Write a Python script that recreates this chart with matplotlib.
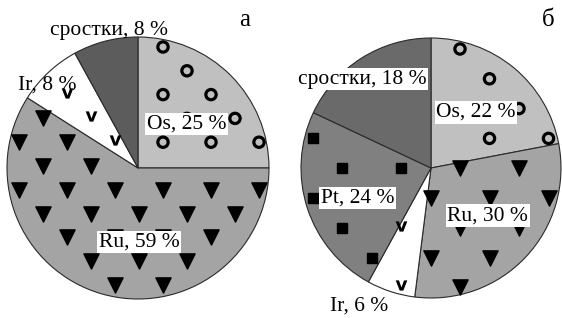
import numpy as np
import matplotlib.pyplot as plt

W, H = 562, 318

# phase shares, %
names_a = ["Os", "Ru", "Ir", "сростки"]
shares_a = [25, 59, 8, 8]
names_b = ["Os", "Ru", "Ir", "Pt", "сростки"]
shares_b = [22, 30, 6, 24, 18]
panel_letters = ["а", "б"]

# fill colour / pattern marker for each phase
colors_a = ["#c0c0c0", "#a4a4a4", "#ffffff", "#5c5c5c"]
colors_b = ["#c0c0c0", "#a4a4a4", "#ffffff", "#808080", "#6a6a6a"]
patterns = {"Os": "o", "Ru": "v", "Ir": "letter", "Pt": "s", "сростки": None}
margins = {"o": 5.5, "v": 2.5, "s": 5.5, "letter": 2.0}

SERIF = "Liberation Serif"


def inside(px, py, cx, cy, R, th1, th2, m):
    dx, dy = px - cx, py - cy
    r = np.hypot(dx, dy)
    if r > R - max(m, 5.5) or r < 1e-6:
        return False
    ang = np.degrees(np.arctan2(dy, dx))
    d1 = (ang - th1) % 360
    if d1 > (th2 - th1):
        return False
    d2 = th2 - th1 - d1
    for d in (d1, d2):
        if d < 90 and r * np.sin(np.radians(d)) < m:
            return False
    return True


def draw_pie(ax, names, shares, colors, cx, cy_img, R, grid, lab_pos, boxed):
    cy = H - cy_img
    wedges, _ = ax.pie(shares, radius=R, center=(cx, cy), startangle=90,
                       counterclock=False, colors=colors,
                       wedgeprops=dict(edgecolor="#2a2a2a", linewidth=0.8))
    dx, dy, y0, xa, xb, nrows = grid
    for name, w in zip(names, wedges):
        kind = patterns[name]
        if kind is None:
            continue
        pts = []
        for k in range(nrows):
            yi = y0 + dy * k
            x0 = xa if k % 2 == 0 else xb
            for xi in np.arange(x0 - 10 * dx, W, dx):
                if inside(xi, H - yi, cx, cy, R, w.theta1, w.theta2, margins[kind]):
                    pts.append((xi, H - yi))
        if not pts:
            continue
        xs, ys = np.array(pts).T
        if kind == "o":
            ax.scatter(xs, ys, s=55, marker="o", facecolors="none",
                       edgecolors="black", linewidths=2.3, zorder=3)
        elif kind == "v":
            ax.scatter(xs, ys, s=120, marker="v", color="black", zorder=3)
        elif kind == "s":
            ax.scatter(xs, ys, s=62, marker="s", color="black", zorder=3)
        else:
            ax.scatter(xs, ys + 2, s=70, marker=r"$\mathbf{v}$", color="black",
                       linewidths=0, zorder=3)
    for name, v, (ang, frac), b in zip(names, shares, lab_pos, boxed):
        a = np.radians(ang)
        bbox = dict(facecolor="white", edgecolor="none", pad=1.2) if b else None
        ax.text(cx + frac * R * np.cos(a), cy + frac * R * np.sin(a),
                f"{name}, {v} %", fontsize=15.5, family=SERIF,
                ha="center", va="center", zorder=5, bbox=bbox)


fig = plt.figure(figsize=(W / 100, H / 100), dpi=100)
ax = fig.add_axes([0, 0, 1, 1])

draw_pie(ax, names_a, shares_a, colors_a, 138, 168, 131,
         (48, 23.8, 47, 19, 43, 12),
         [(42, 0.50), (-89, 0.565), (137.5, 0.94), (102, 1.07)],
         [True, True, False, False])
draw_pie(ax, names_b, shares_b, colors_b, 431, 168, 130,
         (59, 29.8, 49, 460, 430.5, 10),
         [(51, 0.55), (-40, 0.57), (-117.4, 1.20), (-157.7, 0.61), (127.8, 0.866)],
         [True, True, False, True, True])

ax.text(245, H - 20, panel_letters[0], fontsize=18, family=SERIF, ha="center", va="center")
ax.text(548, H - 20, panel_letters[1], fontsize=18, family=SERIF, ha="center", va="center")

ax.set_xlim(0, W)
ax.set_ylim(0, H)
ax.set_aspect("equal")
ax.axis("off")

fig.savefig("out.png", dpi=100)
